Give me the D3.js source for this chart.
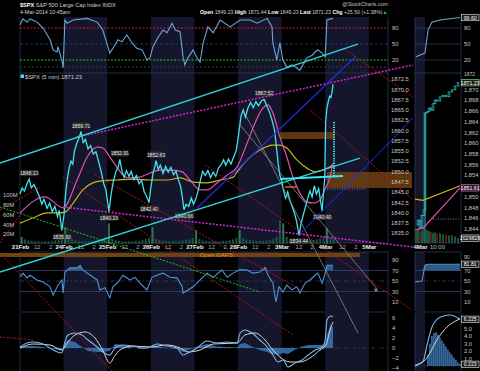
<!DOCTYPE html>
<html><head><meta charset="utf-8">
<script src="https://cdn.jsdelivr.net/npm/d3@7"></script>
<style>
html,body{margin:0;padding:0;background:#000;}
svg{display:block;font-family:"Liberation Sans",Arial,sans-serif;}
</style></head><body>
<svg id="c" width="480" height="371"></svg>
<script>
// ---------------- DATA ----------------
const dayLabels = ["21Feb","24Feb","25Feb","26Feb","27Feb","28Feb","3Mar","4Mar","5Mar"];
const hourLabels = ["12","2"];
const hourFrac = [0.385, 0.692];
const shadedDays = [1,3,5,7];

// 5-min price path, t in trading days from 21Feb open
const priceT = [0.00,0.05,0.10,0.16,0.21,0.26,0.32,0.38,0.44,0.50,0.55,0.62,0.68,0.74,0.80,0.86,0.90,0.96,
 1.01,1.05,1.09,1.13,1.17,1.21,1.25,1.30,1.35,1.40,1.45,1.50,1.56,1.62,1.68,1.74,1.80,1.86,1.92,1.97,
 2.04,2.09,2.14,2.20,2.25,2.29,2.34,2.39,2.44,2.50,2.55,2.61,2.67,2.73,2.79,2.85,2.90,2.96,
 3.00,3.05,3.09,3.12,3.17,3.22,3.28,3.34,3.40,3.46,3.52,3.58,3.63,3.68,3.72,3.76,3.81,3.87,3.93,3.98,
 4.04,4.09,4.14,4.19,4.25,4.31,4.37,4.43,4.49,4.55,4.61,4.67,4.72,4.78,4.84,4.90,4.96,
 5.02,5.07,5.12,5.17,5.23,5.29,5.35,5.41,5.47,5.54,5.60,5.66,5.72,5.78,5.84,5.88,5.92,5.96,
 6.00,6.04,6.09,6.14,6.19,6.24,6.29,6.34,6.40,6.45,6.50,6.55,6.60,6.65,6.70,6.75,6.80,6.85,6.89,6.93,6.96,6.99,
 7.01,7.04,7.07,7.10,7.13,7.16,7.18];
const priceV = [1844.5,1846.0,1845.2,1847.0,1848.13,1846.0,1846.8,1845.5,1844.0,1842.0,1843.2,1841.0,1842.3,1840.2,1841.5,1839.0,1840.5,1835.60,
 1839.5,1845.0,1848.5,1851.0,1852.5,1851.8,1855.0,1856.8,1858.0,1859.71,1857.0,1857.8,1855.5,1856.3,1854.2,1854.8,1852.5,1850.0,1847.0,1845.5,
 1840.19,1844.5,1847.5,1850.0,1851.0,1852.91,1850.0,1848.5,1850.2,1848.8,1850.0,1848.0,1849.0,1847.0,1847.8,1845.0,1844.0,1842.40,
 1846.0,1849.5,1851.0,1852.63,1850.5,1851.5,1849.5,1851.2,1849.8,1851.0,1849.2,1850.0,1848.0,1846.5,1844.0,1840.66,1842.0,1841.5,1843.5,1842.0,
 1843.5,1845.5,1848.0,1850.0,1849.0,1850.2,1848.5,1849.8,1848.8,1850.8,1851.5,1852.8,1851.5,1853.0,1851.8,1853.5,1855.0,
 1859.5,1863.5,1865.0,1863.2,1865.5,1866.8,1865.5,1867.0,1866.0,1867.2,1867.52,1866.0,1864.5,1862.5,1860.0,1856.0,1852.0,1849.0,
 1848.0,1845.5,1843.5,1845.0,1843.0,1841.5,1840.0,1838.0,1834.44,1837.5,1839.5,1841.5,1843.5,1845.2,1843.8,1846.5,1844.5,1845.8,1843.0,1840.40,1844.5,1848.5,
 1862.0,1865.5,1867.0,1868.3,1868.0,1869.5,1871.23];

// pivot labels
const pivotT = [0.21,0.96,1.40,2.04,2.29,2.96,3.12,3.76,5.60,6.40,6.93];
const pivotV = [1848.13,1835.60,1859.71,1840.19,1852.91,1842.40,1852.63,1840.66,1867.52,1834.44,1840.40];
const pivotDir = [1,-1,1,-1,1,-1,1,-1,1,-1,-1];

// moving averages
const pinkT = [0,0.57,0.99,1.31,1.54,1.77,1.90,2.06,2.22,2.36,2.52,2.75,2.98,3.21,3.51,3.72,3.90,4.13,4.29,4.52,4.75,4.98,5.21,5.39,5.57,5.69,5.80,5.96,6.12,6.26,6.42,6.58,6.74,6.88,6.99,7.11,7.18];
const pinkV = [1839.9,1843.8,1841.1,1847.9,1853.5,1855.9,1855.7,1853.5,1851.1,1849.1,1848.4,1848.6,1849.6,1850.3,1850.3,1849.9,1847.9,1845.5,1845.5,1847.2,1849.1,1851.1,1856.9,1861.8,1865.4,1866.2,1864.2,1858.4,1853.5,1848.6,1844.7,1842.5,1842.3,1843.0,1845.5,1848.6,1852.0];
const yellowT = [0,0.30,0.62,0.87,1.03,1.22,1.44,1.67,1.90,2.22,2.59,2.98,3.37,3.67,3.97,4.29,4.59,4.89,4.98,5.28,5.50,5.80,5.96,6.12,6.35,6.58,6.77,6.95,7.18];
const yellowV = [1837.4,1838.7,1839.9,1839.9,1840.1,1842.3,1845.5,1847.2,1847.7,1847.9,1848.1,1847.9,1847.9,1848.4,1847.4,1847.2,1847.9,1848.6,1849.9,1853.5,1855.2,1856.4,1856.4,1855.7,1852.8,1850.8,1849.9,1850.3,1851.6];

// volume (millions), half-hour buckets per day
const volumeByDay = [
 [14,9,7,6,5,5,4,5,5,6,7,9,12],
 [34,12,9,7,6,5,5,5,6,6,7,9,14],
 [42,10,8,6,5,5,5,5,6,6,8,10,12],
 [34,10,8,6,5,5,5,5,6,7,8,9,12],
 [28,10,7,6,5,5,5,5,6,6,7,9,12],
 [28,12,9,8,7,6,6,6,7,8,10,14,48],
 [42,14,10,8,7,6,6,6,7,8,9,11,14],
 [32,12,10]
];
const volTicks = [20,40,60,80,100];

// RSI (top, short)
const rsiTopT = [0.00,0.07,0.16,0.23,0.39,0.53,0.69,0.76,0.85,0.87,0.96,0.99,1.03,1.08,1.22,1.54,1.77,1.90,2.06,2.13,2.25,2.34,2.45,2.57,2.68,2.80,2.91,2.98,3.05,3.17,3.28,3.37,3.49,3.56,3.67,3.74,3.78,3.85,3.97,4.06,4.13,4.20,4.31,4.43,4.59,4.82,5.05,5.28,5.44,5.67,5.78,5.80,5.89,5.96,6.03,6.12,6.24,6.35,6.42,6.58,6.70,6.77,6.83,6.93,7.00,7.04,7.18];
const rsiTopV = [86,97,91,97,91,80,58,39,35,45,20,5,95,89,95,98,91,76,33,42,58,54,67,52,42,39,20,24,45,63,76,71,89,76,73,26,11,24,39,24,16,52,82,71,95,82,95,95,89,98,82,52,20,52,20,7,11,5,1,24,29,35,39,33,26,95,98];

// RSI (bottom)
const rsiBotT = [0.00,0.07,0.16,0.23,0.39,0.53,0.69,0.76,0.87,0.96,0.99,1.03,1.15,1.31,1.38,1.44,1.61,1.77,1.83,1.95,2.06,2.13,2.25,2.36,2.52,2.64,2.75,2.91,3.03,3.14,3.28,3.44,3.60,3.72,3.74,3.85,3.97,4.13,4.29,4.43,4.63,4.75,4.89,5.05,5.21,5.34,5.50,5.62,5.69,5.80,5.87,5.94,6.03,6.12,6.24,6.35,6.42,6.54,6.65,6.77,6.83,6.93,7.00,7.04,7.18];
const rsiBotV = [58,65,56,61,52,48,39,23,42,52,27,67,75,75,80,71,61,52,33,37,18,39,48,61,52,57,46,33,57,61,65,57,56,39,27,33,39,52,65,57,71,57,65,72,71,65,67,76,61,46,10,39,29,42,33,39,27,46,52,61,65,46,65,80,80];

// MACD
const macdT = [0.00,0.16,0.30,0.53,0.76,0.96,1.03,1.10,1.26,1.42,1.56,1.77,1.90,2.06,2.18,2.34,2.59,2.82,2.98,3.14,3.37,3.60,3.74,3.85,4.06,4.29,4.52,4.75,4.98,5.05,5.16,5.32,5.50,5.67,5.80,5.92,6.03,6.15,6.31,6.47,6.61,6.77,6.93,7.00,7.04,7.13,7.18];
const macdV = [0.2,1.0,1.2,0.8,-0.4,-1.0,1.2,2.6,3.0,2.6,1.6,0.2,-0.8,-1.4,0,0.6,0.4,0,0.2,0.8,0.4,0,-1.4,-1.0,0,1.4,1.0,1.2,1.0,3.0,3.6,3.0,1.6,0.2,-1.4,-2.8,-2.4,-3.8,-3.0,-2.4,-1.4,-0.4,0.2,1.6,5.6,6.4,6.2];
const signalT = [0,0.30,0.69,0.96,1.10,1.26,1.49,1.72,1.90,2.06,2.18,2.29,2.59,2.98,3.37,3.67,3.85,4.13,4.43,4.98,5.16,5.39,5.62,5.80,5.96,6.19,6.42,6.65,6.88,7.02,7.11,7.18];
const signalV = [0,0.8,0.6,-0.4,1.2,2.6,3.2,2.0,-0.5,-3.0,-1.5,-0.4,0.4,0.2,0.6,0,-0.8,-0.4,0.8,1.0,2.6,3.0,1.6,-0.4,-1.8,-2.8,-2.8,-2.0,-0.4,0.6,3.6,5.2];
const histT = macdT;
const histV = [0.2,0.4,0.4,0.2,-0.2,-0.5,1.0,1.6,1.2,0.2,-0.6,-0.8,-0.8,-0.6,0.8,0.6,0.1,-0.2,0,0.4,0,-0.2,-0.8,-0.4,0.3,0.8,0.3,0.2,0.1,0.8,1.0,0.3,-0.4,-0.8,-1.2,-1.4,-1.0,-1.2,-0.3,0.3,0.6,0.6,0.6,1.0,2.5,4.8,4.0];

// annotations [t1, price1, t2, price2]
const cyanLines = [[-0.459,1852.04,7.752,1881.02],[-0.459,1825.50,7.798,1853.26]];
const cyanLevel = [[5.963,1848.15,7.408,1848.88]];
const targetLine = [[7.202,1862.03,7.202,1848.64]];
const magentaLines = [[1.307,1858.37,9.014,1875.91],[0.986,1841.33,9.014,1831.59]];
const blueLines = [[4.060,1841.09,7.683,1877.85],[6.422,1834.76,9.014,1863.00]];
const redLines = [[7.408,1880.04,9.014,1868.11],[4.243,1851.56,8.991,1816.25],[6.651,1864.95,9.014,1843.04],
 [0.986,1848.64,6.261,1810.16],[1.720,1849.12,6.583,1820.39],[-0.459,1830.13,2.110,1801.40],
 [-0.459,1840.60,0.459,1846.20],[-0.459,1832.57,0.046,1840.11],[-0.459,1809.68,0.298,1808.95]];
const greenLines = [[-0.459,1841.33,5.505,1820.63]];
const grayLines = [[5.046,1861.30,8.211,1821.12],[5.115,1864.95,7.752,1810.65]];
const gapBoxes = [[5.963,1859.59,7.225,1857.89],[7.041,1849.85,8.991,1845.96]];
const gapBand = [[-0.459,1830.13,7.798,1829.16]];
const gapMark = [[6.078,1846.2,6.353,1846.2]];
const gapDotted = [[7.041,1845.71,7.959,1845.71]];

// right intraday panel (minutes from 9:30, 4Mar)
const rMin = [-22.5,-17.5,-12.5,-7.5,-2.5,0,5,10,15,20,25,30,37.5,45,52.5,60,67.5,75,82.5];
const rPrice = [1844.7,1845.6,1844.1,1846.5,1847.5,1865.6,1865.8,1866.5,1866.1,1867.3,1868.0,1867.8,1868.6,1868.9,1868.6,1869.5,1869.9,1870.6,1871.23];
const rVol = [5.0,5.5,4.8,5.2,5.8,18,5.5,5.0,4.6,4.2,4.5,3.8,4.0,3.6,3.4,3.2,3.3,2.8,2.03];
const rPinkMin = [-25,-5,87.5], rPinkV = [1843.75,1844.1,1851.61];
const rYellowMin = [-25,-5,87.5], rYellowV = [1849.5,1849.3,1852.0];
const rRsiTopMin = [-22.5,0,7.5,17.5,37.5,87.5], rRsiTopV = [26,33,76,91,95,99.6];
const rRsiBotMin = [-25,-7.5,0,7.5,87.5], rRsiBotV = [48,50,80,82,81.81];
const rMacdMin = [-25,-5,5,17.5,37.5,62.5,87.5], rMacdV = [0.1,0.6,2.8,5.2,6.5,6.8,6.225];
const rSigMin = [-25,5,30,55,80,87.5], rSigV = [0,1.1,3.5,5.2,6.1,6.3];
const rHistMin = [7.5,12.5,17.5,22.5,27.5,32.5,37.5,42.5,47.5,52.5,57.5,62.5,67.5,72.5,77.5,82.5,87.5];
const rHistV = [1.5,3.0,4.0,4.4,4.5,4.2,3.8,3.4,3.0,2.6,2.2,1.8,1.5,1.1,0.8,0.5,0.3];
const rDotLevel = [20,87.5,1845.8];
const rXLabels = ["4Mar","10:00"], rXTicks = [-12.5,30];
const rPriceTicks = [1844,1846,1848,1850,1854,1856,1858,1860,1862,1864,1866,1868,1870];

// ---------------- SCALES ----------------
const svg = d3.select("#c");
const x = d3.scaleLinear().domain([0,8]).range([20,368.8]);
const yP = d3.scaleLinear().domain([1835,1872.5]).range([233,79]);
const yVol = d3.scaleLinear().domain([0,100]).range([243.75,195]);
const yRT = d3.scaleLinear().domain([0,100]).range([70.7,17.3]);
const yRB = d3.scaleLinear().domain([0,100]).range([307.25,254.75]);
const yM = d3.scaleLinear().domain([-4,6]).range([368,318]);
const xR = d3.scaleLinear().domain([-25,90]).range([415,461]);
const yPR = d3.scaleLinear().domain([1844,1870]).range([228.7,89.3]);
const yVR = d3.scaleLinear().domain([0,20]).range([243,195]);
const yMR = d3.scaleLinear().domain([0,6]).range([366,321]);

const GRID="#2a3a5c", TXT="#c4c4c4";
const panels=[[17,73],[73,243],[252,311],[313,371]];

svg.append("rect").attr("width",480).attr("height",371).attr("fill","#000");

// shading
const shade = svg.append("g");
shadedDays.forEach(d=>panels.forEach(p=>{
  shade.append("rect").attr("x",x(d)).attr("width",x(d+1)-x(d)).attr("y",p[0]).attr("height",p[1]-p[0]).attr("fill","#15162b");
}));
panels.forEach(p=>shade.append("rect").attr("x",xR(-25)).attr("width",xR(0)-xR(-25)).attr("y",p[0]).attr("height",p[1]-p[0]).attr("fill","#15162b"));

// frames
const fr = svg.append("g").attr("stroke",GRID).attr("stroke-width",0.8);
[[20,388],[415,461]].forEach(([a,b])=>{
  [73,243,252,312].forEach(yy=>fr.append("line").attr("x1",a).attr("x2",b).attr("y1",yy).attr("y2",yy));
  panels.forEach(p=>{
    fr.append("line").attr("x1",a).attr("x2",a).attr("y1",p[0]).attr("y2",p[1]);
    fr.append("line").attr("x1",b).attr("x2",b).attr("y1",p[0]).attr("y2",p[1]);
  });
});

function hline(g,x1,x2,yy,col,dash,w){g.append("line").attr("x1",x1).attr("x2",x2).attr("y1",yy).attr("y2",yy).attr("stroke",col).attr("stroke-width",w||0.9).attr("stroke-dasharray",dash||null);}
const gl = svg.append("g");
hline(gl,20,388,yRT(80),"#c8203a","2,1.5",1);
hline(gl,20,388,yRT(50),"#22406e","3,2",0.9);
hline(gl,20,388,yRT(20),"#22c022","2,1.5",1);
hline(gl,20,388,yRT(7),"#4a4a4a","2,2",0.8);
[80,50,20].forEach(v=>hline(gl,415,461,yRT(v),GRID,null,0.8));
[[20,388],[415,461]].forEach(([a,b])=>{
  hline(gl,a,b,yRB(70),"#2c4066",null,0.9);
  hline(gl,a,b,yRB(30),"#2c4066",null,0.9);
  hline(gl,a,b,yRB(50),"#2c4066","4,2,1,2",0.8);
});
hline(gl,20,388,yM(0),"#2c4066","4,2,1,2",0.8);
hline(gl,415,461,yMR(0),"#2c4066","4,2,1,2",0.8);

// ---------------- MAIN VOLUME ----------------
const vg = svg.append("g");
volumeByDay.forEach((arr,d)=>arr.forEach((v,i)=>{
  const t=d+(i+0.5)/13;
  vg.append("rect").attr("x",x(t)-1).attr("width",2).attr("y",yVol(v)).attr("height",yVol(0)-yVol(v)).attr("fill",i===0?"#2a7a52":"#1c5440");
}));

// gap boxes
const ann = svg.append("g");
gapBoxes.forEach(b=>ann.append("rect").attr("x",x(b[0])).attr("width",x(b[2])-x(b[0])).attr("y",yP(b[1])).attr("height",yP(b[3])-yP(b[1])).attr("fill","#6e3f12").attr("opacity",0.85));
gapBand.forEach(b=>ann.append("rect").attr("x",x(b[0])).attr("width",x(b[2])-x(b[0])).attr("y",yP(b[1])).attr("height",yP(b[3])-yP(b[1])).attr("fill","#74420f"));
ann.append("text").attr("x",x(4.5)).attr("y",yP(gapBand[0][1])+3.8).attr("text-anchor","middle").attr("font-size",6).attr("fill","#e8901c").text("Open GAPS");
gapMark.forEach(b=>ann.append("line").attr("x1",x(b[0])).attr("x2",x(b[2])).attr("y1",yP(b[1])).attr("y2",yP(b[3])).attr("stroke","#c87020").attr("stroke-width",1.5));
gapDotted.forEach(b=>ann.append("line").attr("x1",x(b[0])).attr("x2",x(b[2])).attr("y1",yP(b[1])).attr("y2",yP(b[3])).attr("stroke","#aaa").attr("stroke-width",0.8).attr("stroke-dasharray","1,1.5"));

// ---------------- PRICE + MAs ----------------
function ln(ts,vs,xs,ys,curve){return d3.line().x((d,i)=>xs(ts[i])).y((d,i)=>ys(vs[i])).curve(curve||d3.curveLinear)(vs);}
svg.append("path").attr("d",ln(yellowT,yellowV,x,yP,d3.curveMonotoneX)).attr("fill","none").attr("stroke","#c8b416").attr("stroke-width",1.2);
svg.append("path").attr("d",ln(pinkT,pinkV,x,yP,d3.curveMonotoneX)).attr("fill","none").attr("stroke","#e052b4").attr("stroke-width",1.2);
svg.append("path").attr("d",ln(priceT,priceV,x,yP)).attr("fill","none").attr("stroke","#42e2ee").attr("stroke-width",1.3);

// pivot labels
const pl = svg.append("g");
pivotT.forEach((t,i)=>{
  const cx=x(t), cy=yP(pivotV[i])+(pivotDir[i]>0?-6:6);
  pl.append("rect").attr("x",cx-8).attr("y",cy-3).attr("width",16).attr("height",6).attr("fill","#333").attr("opacity",0.9);
  pl.append("text").attr("x",cx).attr("y",cy+2).attr("text-anchor","middle").attr("font-size",5.2).attr("fill","#e0e0e0").text(pivotV[i].toFixed(2));
});

// ---------------- RSI / MACD ----------------
svg.append("path").attr("d",ln(rsiTopT,rsiTopV,x,yRT)).attr("fill","none").attr("stroke","#6aa6d8").attr("stroke-width",1.1);
const rsiArea = d3.area().x((d,i)=>x(rsiBotT[i])).y0(yRB(70)).y1((d)=>yRB(Math.max(d,70)));
svg.append("path").attr("d",rsiArea(rsiBotV)).attr("fill","#3a70a8").attr("opacity",0.8);
svg.append("path").attr("d",ln(rsiBotT,rsiBotV,x,yRB)).attr("fill","none").attr("stroke","#4f94d6").attr("stroke-width",1.1);
const histArea = d3.area().x((d,i)=>x(histT[i])).y0(yM(0)).y1(d=>yM(d));
svg.append("path").attr("d",histArea(histV)).attr("fill","#3a72ad").attr("opacity",0.9);
svg.append("path").attr("d",ln(signalT,signalV,x,yM,d3.curveMonotoneX)).attr("fill","none").attr("stroke","#d8d8d8").attr("stroke-width",1);
svg.append("path").attr("d",ln(macdT,macdV,x,yM,d3.curveMonotoneX)).attr("fill","none").attr("stroke","#7cb8ea").attr("stroke-width",1.1);

// ---------------- TREND LINES ----------------
const tl = svg.append("g").attr("fill","none");
function seg(list,col,w,dash){list.forEach(s=>tl.append("line").attr("x1",x(s[0])).attr("y1",yP(s[1])).attr("x2",x(s[2])).attr("y2",yP(s[3])).attr("stroke",col).attr("stroke-width",w).attr("stroke-dasharray",dash||null));}
seg(grayLines,"#8c8c8c",0.8);
seg(greenLines,"#22bb22",1,"2,1.5");
seg(redLines,"#b8121c",1,"2,1.5");
seg(magentaLines,"#d624d6",1.5,"2,1.5");
seg(blueLines.slice(0,1),"#1c2ee6",1.2);
seg(blueLines.slice(1),"#1c2ee6",1.2,"2,1");
seg(cyanLines,"#30d2dc",1.3);
seg(cyanLevel,"#3ae8f0",2);
seg(targetLine,"#3ae8f0",2,"1.2,1.2");
{const s=grayLines[0], ex=x(s[2]), ey=yP(s[3]);
 tl.append("path").attr("d",`M${ex},${ey} l-4,-2 l1.5,4 z`).attr("fill","#8c8c8c");}

// ---------------- AXES ----------------
function styleAxis(g){g.select(".domain").remove();g.selectAll("text").attr("fill",TXT).attr("font-size",5.8).attr("font-family","Liberation Sans, Arial, sans-serif");}
svg.append("g").attr("transform","translate(388,0)").call(d3.axisRight(yP).tickValues(d3.range(1835,1872.6,2.5)).tickFormat(d3.format(".1f")).tickSize(0).tickPadding(3)).call(styleAxis);
svg.append("g").attr("transform","translate(388,0)").call(d3.axisRight(yRT).tickValues([80,50,20]).tickSize(0).tickPadding(4)).call(styleAxis);
svg.append("g").attr("transform","translate(388,0)").call(d3.axisRight(yRB).tickValues([90,70,50,30,10]).tickSize(0).tickPadding(4)).call(styleAxis);
svg.append("g").attr("transform","translate(388,0)").call(d3.axisRight(yM).tickValues([6,4,2,0,-2,-4]).tickSize(0).tickPadding(4)).call(styleAxis);
svg.append("g").attr("transform","translate(0,0)").call(d3.axisRight(yVol).tickValues(volTicks).tickFormat(d=>d+"M").tickSize(0).tickPadding(3)).call(styleAxis);
// right axes
svg.append("g").attr("transform","translate(461,0)").call(d3.axisRight(yPR).tickValues(rPriceTicks).tickSize(0).tickPadding(3)).call(styleAxis);
svg.append("g").attr("transform","translate(461,0)").call(d3.axisRight(yRT).tickValues([80,50,20]).tickSize(0).tickPadding(3)).call(styleAxis);
svg.append("g").attr("transform","translate(461,0)").call(d3.axisRight(yRB).tickValues([70,50,30,10]).tickSize(0).tickPadding(3)).call(styleAxis);
svg.append("g").attr("transform","translate(461,0)").call(d3.axisRight(yMR).tickValues([5,4,3,2,1]).tickSize(0).tickPadding(3)).call(styleAxis);

// x axis main
const xTickVals=[], xTickText=[];
dayLabels.forEach((lab,d)=>{xTickVals.push(d);xTickText.push(lab); if(d<dayLabels.length-1){hourFrac.forEach((f,k)=>{xTickVals.push(d+f);xTickText.push(hourLabels[k]);});}});
const xa = svg.append("g").attr("transform","translate(0,243)").call(d3.axisBottom(x).tickValues(xTickVals).tickFormat((d,i)=>xTickText[i]).tickSize(0).tickPadding(1.5));
xa.select(".domain").remove();
xa.selectAll("text").attr("font-size",6).attr("font-family","Liberation Sans, Arial, sans-serif").attr("fill",(d,i)=>Number.isInteger(d)?"#eeeeee":"#a8a8a8").attr("font-weight",(d)=>Number.isInteger(d)?"bold":"normal");
const xra = svg.append("g").attr("transform","translate(0,243)").call(d3.axisBottom(xR).tickValues(rXTicks).tickFormat((d,i)=>rXLabels[i]).tickSize(0).tickPadding(1.5));
xra.select(".domain").remove();
xra.selectAll("text").attr("font-size",6).attr("fill",(d,i)=>i===0?"#eee":"#bbb").attr("font-weight",(d,i)=>i===0?"bold":"normal");

// ---------------- RIGHT PANEL ----------------
const rg = svg.append("g");
rMin.forEach((m,i)=>{
  const up = i===0 || rPrice[i]>=rPrice[i-1];
  rg.append("rect").attr("x",xR(m)-0.9).attr("width",1.8).attr("y",yVR(rVol[i])).attr("height",yVR(0)-yVR(rVol[i])).attr("fill",i===5?"#146a5c":(up?"#1d5a3e":"#5a2020"));
});
rMin.forEach((m,i)=>{ if(i===0) return;
  const o=rPrice[i-1], c=rPrice[i];
  const top=yPR(Math.max(o,c)), h=Math.max(0.8,Math.abs(yPR(o)-yPR(c)));
  rg.append("rect").attr("x",xR(m)-0.9).attr("width",1.8).attr("y",top).attr("height",h).attr("fill",h>20?"#15706a":"none").attr("stroke","#3fe0ea").attr("stroke-width",0.6);
});
rg.append("path").attr("d",ln(rYellowMin,rYellowV,xR,yPR)).attr("fill","none").attr("stroke","#c8b416").attr("stroke-width",1.2);
rg.append("path").attr("d",ln(rPinkMin,rPinkV,xR,yPR)).attr("fill","none").attr("stroke","#e052b4").attr("stroke-width",1.2);
rg.append("line").attr("x1",xR(rDotLevel[0])).attr("x2",xR(rDotLevel[1])).attr("y1",yPR(rDotLevel[2])).attr("y2",yPR(rDotLevel[2])).attr("stroke","#aaa").attr("stroke-width",0.8).attr("stroke-dasharray","1,1.5");
rg.append("path").attr("d",ln(rRsiTopMin,rRsiTopV,xR,yRT)).attr("fill","none").attr("stroke","#6aa6d8").attr("stroke-width",1.1);
const rArea = d3.area().x((d,i)=>xR(rRsiBotMin[i])).y0(yRB(70)).y1(d=>yRB(Math.max(d,70)));
rg.append("path").attr("d",rArea(rRsiBotV)).attr("fill","#3a70a8").attr("opacity",0.8);
rg.append("path").attr("d",ln(rRsiBotMin,rRsiBotV,xR,yRB)).attr("fill","none").attr("stroke","#4f94d6").attr("stroke-width",1.1);
rHistMin.forEach((m,i)=>rg.append("rect").attr("x",xR(m)-0.9).attr("width",1.6).attr("y",yMR(rHistV[i])).attr("height",yMR(0)-yMR(rHistV[i])).attr("fill","#3a72ad"));
rg.append("path").attr("d",ln(rSigMin,rSigV,xR,yMR,d3.curveMonotoneX)).attr("fill","none").attr("stroke","#d8d8d8").attr("stroke-width",1);
rg.append("path").attr("d",ln(rMacdMin,rMacdV,xR,yMR,d3.curveMonotoneX)).attr("fill","none").attr("stroke","#7cb8ea").attr("stroke-width",1.1);

// value boxes
function vbox(yy,txt,stroke){
  rg.append("rect").attr("x",461.5).attr("y",yy-3.2).attr("width",17.5).attr("height",6.4).attr("fill","#1e1e1e").attr("stroke",stroke||"#d0d0d0").attr("stroke-width",0.7);
  rg.append("text").attr("x",470.2).attr("y",yy+2).attr("text-anchor","middle").attr("font-size",5.2).attr("fill","#fff").text(txt);
}
rg.append("text").attr("x",464).attr("y",yPR(1872)-2.2).attr("font-size",5).attr("fill",TXT).text("1872");
vbox(yRT(99.6),"99.60");
vbox(yPR(1871.23),"1871.23","#7ad07a");
vbox(yPR(1851.61),"1851.61","#e052b4");
vbox(yVR(2.03),"2029826");
vbox(yRB(81.81),"81.81");
vbox(yMR(6.225),"6.225");
vbox(yMR(0.223),"0.223");
rg.append("text").attr("x",464).attr("y",yRB(90)-1.5).attr("font-size",5).attr("fill",TXT).text("90");

// ---------------- HEADER ----------------
const hd = svg.append("g").attr("font-size",6.2);
const t1 = hd.append("text").attr("x",20).attr("y",7).attr("font-size",5.6);
t1.append("tspan").attr("font-weight","bold").attr("fill","#fff").text("$SPX");
t1.append("tspan").attr("fill","#d0d0d0").text(" S&P 500 Large Cap Index INDX");
hd.append("text").attr("x",20).attr("y",13.8).attr("fill","#d0d0d0").attr("font-size",5.4).text("4-Mar-2014 10:45am");
hd.append("text").attr("x",388).attr("y",5.5).attr("text-anchor","end").attr("fill","#c0c0c0").attr("font-size",5.3).text("@StockCharts.com");
const t3 = hd.append("text").attr("x",200).attr("y",14.2).attr("font-size",5.2);
[["Open"," 1849.23 "],["High"," 1871.44 "],["Low"," 1849.23 "],["Last"," 1871.23 "],["Chg"," +25.50 (+1.38%)"]].forEach(([k,v])=>{
  t3.append("tspan").attr("font-weight","bold").attr("fill","#fff").text(k);
  t3.append("tspan").attr("fill","#c8c8c8").text(v);
});
t3.append("tspan").attr("fill","#22cc22").text("▲");
hd.append("rect").attr("x",20.5).attr("y",74.5).attr("width",3.5).attr("height",3.5).attr("fill","#40e0ee");
hd.append("text").attr("x",25).attr("y",79).attr("fill","#d0d0d0").attr("font-size",5.8).text("$SPX (5 min) 1871.23");
</script></body></html>
